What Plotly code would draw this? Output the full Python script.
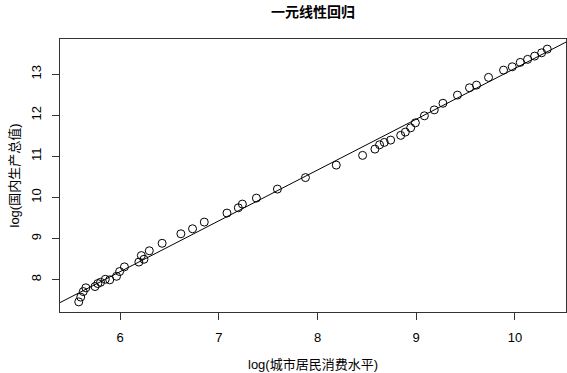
import numpy as np
import plotly.graph_objects as go

# log(城市居民消费水平)
log_consumption = [5.581, 5.601, 5.627, 5.653, 5.746, 5.774, 5.802, 5.850, 5.895, 5.964,
                   5.995, 6.044, 6.190, 6.215, 6.242, 6.296, 6.426, 6.616, 6.734, 6.853,
                   7.083, 7.198, 7.239, 7.381, 7.594, 7.878, 8.190, 8.457, 8.582, 8.629,
                   8.677, 8.741, 8.843, 8.890, 8.944, 8.992, 9.083, 9.183, 9.271, 9.418,
                   9.540, 9.611, 9.733, 9.885, 9.973, 10.054, 10.129, 10.200, 10.271, 10.328]
# log(国内生产总值)
log_gdp = [7.457, 7.574, 7.708, 7.800, 7.830, 7.903, 7.934, 8.007, 7.993, 8.080,
           8.195, 8.309, 8.426, 8.584, 8.494, 8.701, 8.883, 9.114, 9.236, 9.399,
           9.618, 9.747, 9.837, 9.983, 10.202, 10.482, 10.786, 11.022, 11.175, 11.280,
           11.338, 11.394, 11.509, 11.589, 11.693, 11.815, 11.985, 12.129, 12.290, 12.489,
           12.667, 12.732, 12.920, 13.097, 13.178, 13.285, 13.358, 13.438, 13.518, 13.608]

x_ticks = [6, 7, 8, 9, 10]
y_ticks = [8, 9, 10, 11, 12, 13]

title_text = "一元线性回归"
x_title = "log(城市居民消费水平)"
y_title = "log(国内生产总值)"

x = np.array(log_consumption)
y = np.array(log_gdp)

def pad_range(v):
    lo, hi = float(np.min(v)), float(np.max(v))
    d = (hi - lo) * 0.04
    return [lo - d, hi + d]

xr = pad_range(x)
yr = pad_range(y)

slope, intercept = np.polyfit(x, y, 1)
line_x = np.array(xr)
line_y = intercept + slope * line_x

W, H = 567, 373
fig = go.Figure()
fig.add_trace(go.Scatter(x=line_x, y=line_y, mode="lines",
                         line=dict(color="black", width=1), showlegend=False,
                         hoverinfo="skip"))
fig.add_trace(go.Scatter(x=x, y=y, mode="markers",
                         marker=dict(symbol="circle-open", size=8,
                                     line=dict(color="black", width=1), color="black"),
                         showlegend=False))

font_main = "Liberation Sans, Arial, Noto Sans CJK SC"
fig.update_layout(
    width=W, height=H,
    margin=dict(l=60, r=1, t=39, b=61, autoexpand=False),
    paper_bgcolor="white", plot_bgcolor="white",
    title=dict(text="<b>" + title_text + "</b>", x=0.5, xref="paper", xanchor="center",
               y=1 - 12 / H, yref="container", yanchor="middle",
               font=dict(family="Noto Sans CJK SC", size=14, color="black")),
    font=dict(family=font_main, size=12, color="black"),
    xaxis=dict(range=xr, tickvals=x_ticks, ticktext=[str(t) for t in x_ticks],
               showgrid=False, zeroline=False, showline=True, mirror=True,
               linecolor="#333333", linewidth=1, ticks="outside", ticklen=7,
               tickcolor="#333333", ticklabelstandoff=6, automargin=False,
               tickfont=dict(size=13)),
    yaxis=dict(range=yr, tickvals=y_ticks, ticktext=[str(t) for t in y_ticks],
               showgrid=False, zeroline=False, showline=True, mirror=True,
               linecolor="#333333", linewidth=1, ticks="outside", ticklen=7,
               tickcolor="#333333", tickangle=-90, ticklabelstandoff=6,
               automargin=False, tickfont=dict(size=13)),
    annotations=[
        dict(text=x_title, xref="paper", x=0.5, xanchor="center",
             yref="paper", y=-(364 - 312) / (312 - 39), yanchor="middle",
             showarrow=False, font=dict(size=13)),
        dict(text=y_title, xref="paper", x=-(60 - 14) / (566 - 60), xanchor="center",
             yref="paper", y=0.5, yanchor="middle", textangle=-90,
             showarrow=False, font=dict(size=13)),
    ],
)

fig.write_html("out.html", config={"displayModeBar": False},
               post_script="document.body.style.margin='0';document.body.style.padding='0';")
